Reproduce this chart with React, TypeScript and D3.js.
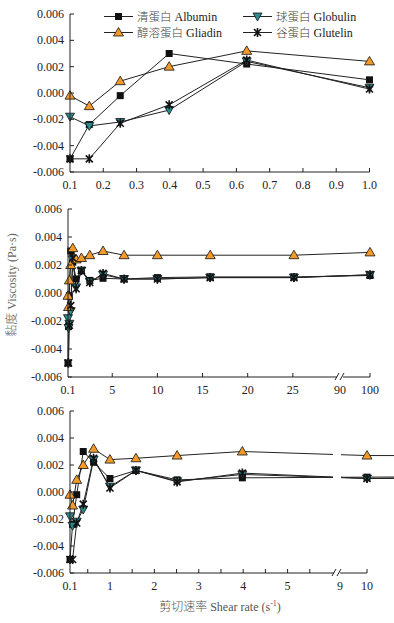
import * as d3 from "d3";
import React from "react";

// shear rate (s-1) and viscosity (Pa·s) per protein fraction
const shearRates = [0.1, 0.158, 0.251, 0.398, 0.631, 1.0, 1.585, 2.512, 3.981, 6.31, 10, 15.85, 25.12, 100];
const albumin = [-0.005, -0.0024, -0.0002, 0.003, 0.0022, 0.001, 0.0016, 0.0009, 0.00105, 0.001, 0.0011, 0.00115, 0.00115, 0.00125];
const globulin = [-0.0018, -0.0025, -0.0022, -0.0013, 0.0024, 0.0004, 0.0016, 0.0008, 0.0013, 0.001, 0.001, 0.0011, 0.0011, 0.0013];
const gliadin = [-0.0002, -0.001, 0.0009, 0.002, 0.0032, 0.0024, 0.0025, 0.0027, 0.003, 0.0027, 0.0027, 0.0027, 0.0027, 0.0029];
const glutelin = [-0.005, -0.005, -0.0023, -0.0009, 0.0025, 0.0003, 0.0016, 0.00075, 0.0014, 0.001, 0.001, 0.0011, 0.0011, 0.0013];

const seriesCn = ["清蛋白", "球蛋白", "醇溶蛋白", "谷蛋白"];
const seriesEn = ["Albumin", "Globulin", "Gliadin", "Glutelin"];
const yTicks = [-0.006, -0.004, -0.002, 0, 0.002, 0.004, 0.006];

const topTicks = [0.1, 0.2, 0.3, 0.4, 0.5, 0.6, 0.7, 0.8, 0.9, 1.0];
const midTickMarks = [5, 10, 15, 20, 25, 100];
const midLabels = [0.1, 5, 10, 15, 20, 25, 90, 100];
const botTickMarks = [0.5, 1, 1.5, 2, 2.5, 3, 3.5, 4, 4.5, 5, 5.5, 10];
const botLabels = [0.1, 1, 2, 3, 4, 5, 9, 10];

const ORANGE = "#f39a2b";
const TEAL = "#2b8a8c";
const SERIF = "Liberation Serif";
const CJK = "Noto Sans CJK SC";

type Panel = {
  x0: number;
  yTop: number;
  yBot: number;
  domain: number[];
  range: number[];
  tickMarks: number[];
  labels: number[];
  fmt: (v: number) => string;
  keep: (v: number) => boolean;
  brk?: number;
  gapLines?: boolean;
};

const panels: Panel[] = [
  {
    x0: 70, yTop: 14, yBot: 172,
    domain: [0.1, 1], range: [70, 369.5],
    tickMarks: topTicks.slice(1), labels: topTicks,
    fmt: (v) => v.toFixed(1), keep: (v) => v <= 1,
  },
  {
    x0: 68, yTop: 209, yBot: 377,
    domain: [0.1, 30, 90, 100], range: [68, 338, 340, 370],
    tickMarks: midTickMarks, labels: midLabels,
    fmt: (v) => String(v), keep: (v) => v <= 30 || v >= 90, brk: 339,
  },
  {
    x0: 70, yTop: 411, yBot: 573,
    domain: [0.1, 6, 9, 10], range: [70, 332, 340, 367],
    tickMarks: botTickMarks, labels: botLabels,
    fmt: (v) => String(v), keep: (v) => v <= 6 || v >= 9, brk: 336, gapLines: true,
  },
];

const star = (x: number, y: number, r: number) =>
  `M${x - r},${y - r}L${x + r},${y + r}M${x - r},${y + r}L${x + r},${y - r}M${x},${y - r - 1}L${x},${y + r + 1}`;

const Marker = ({ kind, x, y }: { kind: number; x: number; y: number }) => {
  if (kind === 0) return <rect x={x - 3.5} y={y - 3.5} width={7} height={7} fill="#111" />;
  if (kind === 1)
    return <path d={`M${x - 4.5},${y - 3.5}L${x + 4.5},${y - 3.5}L${x},${y + 4.5}Z`} fill={TEAL} stroke="#111" strokeWidth={0.8} />;
  if (kind === 2)
    return <path d={`M${x},${y - 5}L${x + 5},${y + 3.5}L${x - 5},${y + 3.5}Z`} fill={ORANGE} stroke="#111" strokeWidth={0.8} />;
  return <path d={star(x, y, 3.5)} stroke="#111" strokeWidth={1.6} fill="none" />;
};

const PanelView = ({ p }: { p: Panel }) => {
  const x = d3.scaleLinear().domain(p.domain).range(p.range);
  const y = d3.scaleLinear().domain([-0.006, 0.006]).range([p.yBot, p.yTop]);
  const idx = shearRates.map((_, i) => i).filter((i) => p.keep(shearRates[i]));
  const all = [albumin, globulin, gliadin, glutelin];
  const xEnd = p.range[p.range.length - 1];
  return (
    <g>
      {all.map((s, k) => (
        <path
          key={k}
          d={d3.line<number>().x((i) => x(shearRates[i])).y((i) => y(s[i]))(idx) || ""}
          fill="none"
          stroke="#222"
          strokeWidth={1}
        />
      ))}
      {p.gapLines && p.brk && <rect x={p.brk - 3} y={p.yTop} width={8} height={p.yBot - p.yTop - 2} fill="#fff" />}
      {all.map((s, k) => (
        <g key={k}>
          {idx.map((i) => (
            <Marker key={i} kind={k} x={x(shearRates[i])} y={y(s[i])} />
          ))}
        </g>
      ))}
      {/* y axis */}
      <line x1={p.x0} x2={p.x0} y1={p.yTop} y2={p.yBot} stroke="#222" />
      {yTicks.map((t) => (
        <g key={t}>
          <line x1={p.x0} x2={p.x0 + 4} y1={y(t)} y2={y(t)} stroke="#222" />
          <text x={p.x0 - 6} y={y(t) + 4} textAnchor="end" fontSize={12} fontFamily={SERIF} fill="#222">
            {t.toFixed(3)}
          </text>
        </g>
      ))}
      {/* x axis */}
      {p.brk ? (
        <g>
          <line x1={p.x0} x2={p.brk - 2} y1={p.yBot} y2={p.yBot} stroke="#222" />
          <line x1={p.brk + 4} x2={xEnd} y1={p.yBot} y2={p.yBot} stroke="#222" />
          <line x1={p.brk - 4} x2={p.brk} y1={p.yBot + 3} y2={p.yBot - 4} stroke="#222" />
          <line x1={p.brk + 1} x2={p.brk + 5} y1={p.yBot + 3} y2={p.yBot - 4} stroke="#222" />
        </g>
      ) : (
        <line x1={p.x0} x2={xEnd} y1={p.yBot} y2={p.yBot} stroke="#222" />
      )}
      {p.tickMarks.map((t) => (
        <line key={t} x1={x(t)} x2={x(t)} y1={p.yBot} y2={p.yBot - 4} stroke="#222" />
      ))}
      {p.labels.map((t) => (
        <text key={t} x={x(t)} y={p.yBot + 17} textAnchor="middle" fontSize={12} fontFamily={SERIF} fill="#222">
          {p.fmt(t)}
        </text>
      ))}
    </g>
  );
};

const legendPos = [
  [104, 16.5],
  [243, 16.5],
  [104, 32.5],
  [243, 32.5],
];

export default function App() {
  return (
    <svg width={394} height={623} style={{ position: "absolute", left: 0, top: 0, background: "#fff" }}>
      {panels.map((p, i) => (
        <PanelView key={i} p={p} />
      ))}
      {seriesCn.map((n, k) => {
        const [lx, ly] = legendPos[k];
        return (
          <g key={n}>
            <line x1={lx} x2={lx + 29} y1={ly} y2={ly} stroke="#222" />
            <Marker kind={k} x={lx + 14.5} y={ly} />
            <text x={lx + 33} y={ly + 4} fontSize={11.5} fill="#222">
              <tspan fontFamily={CJK} fontWeight={300} fill="#444">{n}</tspan>
              <tspan fontFamily={SERIF} fontSize={12}> {seriesEn[k]}</tspan>
            </text>
          </g>
        );
      })}
      <text transform="translate(16,285) rotate(-90)" textAnchor="middle" fontSize={12} fill="#666">
        <tspan fontFamily={CJK} fontWeight={300}>黏度</tspan>
        <tspan fontFamily={SERIF}> Viscosity (Pa·s)</tspan>
      </text>
      <text x={220} y={611} textAnchor="middle" fontSize={12} fill="#555">
        <tspan fontFamily={CJK} fontWeight={300}>剪切速率</tspan>
        <tspan fontFamily={SERIF}> Shear rate (s</tspan>
        <tspan fontFamily={SERIF} dy={-5} fontSize={8}>-1</tspan>
        <tspan fontFamily={SERIF} dy={5}>)</tspan>
      </text>
    </svg>
  );
}
